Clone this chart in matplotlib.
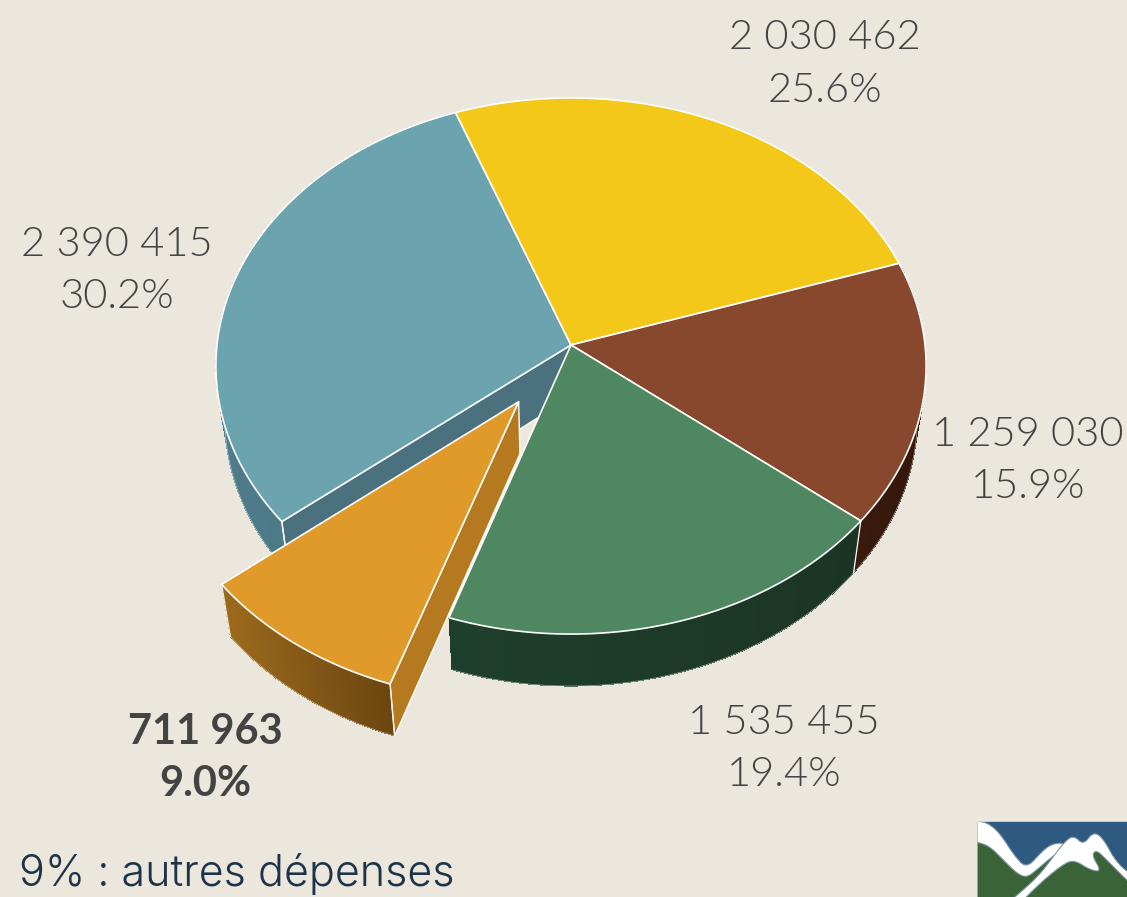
import numpy as np
import matplotlib
matplotlib.use("Agg")
import matplotlib.pyplot as plt
from matplotlib.colors import to_rgb
from matplotlib.patches import Rectangle

# ---- data (clockwise from the top-left boundary) ----
values = [2030462, 1259030, 1535455, 711963, 2390415]
percent_labels = ["25.6%", "15.9%", "19.4%", "9.0%", "30.2%"]
value_labels = ["2 030 462", "1 259 030", "1 535 455", "711 963", "2 390 415"]
top_colors = ["#f4c818", "#87482d", "#4e8760", "#e09a2a", "#6ba3ae"]
rim_left = ["#b8960f", "#3a1b0e", "#1f3f2d", "#9c6a1c", "#4f7c8a"]
rim_right = ["#b8960f", "#341709", "#1b3524", "#6a4410", "#4a7480"]
explode = [0, 0, 0, 0.255, 0]
label_xy = [(825, 49), (1028, 446), (784, 734), (205, 744), (117, 256)]
note = "9% : autres dépenses"

BG = "#ebe7dd"
START = 110.5
CX, CY, A, B, K = 571.0, 345.0, 354.0, 266.4, 0.0784
DEPTH, SHRINK = 52.0, 0.975

fig = plt.figure(figsize=(11.27, 8.97), dpi=100, facecolor=BG)
ax = fig.add_axes([0, 0, 1, 1])
ax.set_xlim(0, 1127)
ax.set_ylim(897, 0)
ax.axis("off")


def proj(u, v, low=False):
    w = 1 + K * v
    x = CX + A * u / w
    y = CY - B * v / w
    if low:
        x = CX + SHRINK * (x - CX)
        y = y + DEPTH
    return np.asarray(x), np.asarray(y)


def arc(a0, a1, off, n=120):
    t = np.radians(np.linspace(a0, a1, n))
    return np.cos(t) + off[0], np.sin(t) + off[1]


def mix(c0, c1, f):
    c0, c1 = np.array(to_rgb(c0)), np.array(to_rgb(c1))
    return tuple(c0 + (c1 - c0) * f)


total = sum(values)
sweeps = [v / total * 360 for v in values]
angles = START - np.concatenate([[0], np.cumsum(sweeps)])
slices = []
for i in range(len(values)):
    a0, a1 = angles[i], angles[i + 1]
    mid = np.radians((a0 + a1) / 2)
    off = (explode[i] * np.cos(mid), explode[i] * np.sin(mid))
    slices.append((a0, a1, off))


def draw_rim(i, z):
    a0, a1, off = slices[i]
    u, v = arc(a0, a1, off)
    xt, yt = proj(u, v)
    xb, yb = proj(u, v, True)
    xmin, xmax = min(xt.min(), xb.min()), max(xt.max(), xb.max())
    for j in range(len(u) - 1):
        f = ((xt[j] + xt[j + 1]) / 2 - xmin) / max(xmax - xmin, 1)
        c = mix(rim_left[i], rim_right[i], f)
        k = min(j + 2, len(u) - 1)
        ax.fill([xt[j], xt[k], xb[k], xb[j]],
                [yt[j], yt[k], yb[k], yb[j]],
                color=c, lw=0, antialiased=False, zorder=z)
    ax.plot(xb, yb, color="white", lw=0.5, alpha=0.6, zorder=z)


def draw_radial(i, angle, z, color):
    _, _, off = slices[i]
    t = np.radians(angle)
    x0, y0 = proj(np.array(off[0]), np.array(off[1]))
    x1, y1 = proj(np.cos(t) + off[0], np.sin(t) + off[1])
    x2, y2 = proj(np.cos(t) + off[0], np.sin(t) + off[1], True)
    x3, y3 = proj(np.array(off[0]), np.array(off[1]), True)
    ax.fill([x0, x1, x2, x3], [y0, y1, y2, y3], facecolor=color,
            edgecolor="white", lw=1.0, joinstyle="round", zorder=z)


def draw_top(i, z):
    a0, a1, off = slices[i]
    u, v = arc(a0, a1, off, 200)
    u = np.concatenate([[off[0]], u])
    v = np.concatenate([[off[1]], v])
    x, y = proj(u, v)
    ax.fill(x, y, facecolor=top_colors[i], edgecolor="white", lw=1.2,
            joinstyle="round", zorder=z)


# back to front
draw_rim(4, 1)
draw_radial(4, angles[4], 2, "#4a717d")
draw_rim(1, 3)
draw_rim(2, 3)
for i in (4, 0, 1, 2):
    draw_top(i, 4)
# vertical seams
for i, ang in ((1, angles[2]), (4, angles[4])):
    t = np.radians(ang)
    xa, ya = proj(np.cos(t), np.sin(t))
    xb, yb = proj(np.cos(t), np.sin(t), True)
    ax.plot([xa, xb], [ya, yb], color="white", lw=0.9, zorder=5)
# pulled-out slice
draw_rim(3, 6)
draw_radial(3, angles[3], 7, "#b5791f")
draw_top(3, 8)
_a0, _a1, _off = slices[3]
for ang in (_a1, _a0):
    t = np.radians(ang)
    xa, ya = proj(np.cos(t) + _off[0], np.sin(t) + _off[1])
    xb, yb = proj(np.cos(t) + _off[0], np.sin(t) + _off[1], True)
    ax.plot([xa, xb], [ya, yb], color="#f5efe0", lw=0.9, zorder=7)

# labels
for i, (x, y) in enumerate(label_xy):
    weight = "bold" if i == 3 else 300
    for k, s in enumerate((value_labels[i], percent_labels[i])):
        ax.text(x, y + 52.5 * k, s, ha="center", va="baseline",
                family="Lato", fontsize=30, color="#434343",
                fontweight=weight, zorder=10)

ax.text(19, 886, note, ha="left", va="baseline", family="Inter", fontsize=31,
        color="#1c3349", fontweight=300, zorder=10)


# logo
def smooth(px, py, n=3):
    p = np.column_stack([px, py])
    for _ in range(n):
        q = np.roll(p, -1, axis=0)
        p = np.column_stack([0.75 * p + 0.25 * q, 0.25 * p + 0.75 * q]).reshape(-1, 2)
    return p[:, 0] / 3 + 960, p[:, 1] / 3 + 810


box = Rectangle((978, 822), 149, 75, transform=ax.transData)
ax.fill([978, 1127, 1127, 978], [822, 822, 897, 897], color="#2e5a82", zorder=2)
gx = [55, 90, 130, 170, 200, 230, 270, 310, 340, 370, 400, 430, 470, 501, 501, 55]
gy = [97, 110, 150, 190, 200, 180, 145, 115, 95, 115, 90, 110, 170, 210, 261, 261]
ax.fill(np.array(gx) / 3 + 960, np.array(gy) / 3 + 810, color="#3a6338", zorder=3)
w1x = [30, 55, 85, 120, 165, 200, 245, 275, 315, 300, 270, 230, 200, 170, 130, 90, 55, 30]
w1y = [30, 33, 40, 70, 140, 175, 125, 102, 98, 125, 145, 180, 203, 190, 150, 110, 97, 95]
sx, sy = smooth(w1x, w1y)
for p in ax.fill(sx, sy, facecolor="white", edgecolor="#7f93a6", lw=0.8, zorder=4):
    p.set_clip_path(box)
w2x = [130, 230, 280, 310, 340, 370, 400, 430, 470, 530, 530, 440, 410, 395, 425, 390, 340, 300, 240, 170]
w2y = [290, 205, 140, 100, 75, 105, 65, 85, 160, 205, 240, 150, 120, 135, 185, 180, 148, 170, 220, 290]
sx, sy = smooth(w2x, w2y)
for p in ax.fill(sx, sy, facecolor="white", edgecolor="#7f93a6", lw=0.8, zorder=4):
    p.set_clip_path(box)

fig.savefig("out.png", dpi=100, facecolor=BG)
